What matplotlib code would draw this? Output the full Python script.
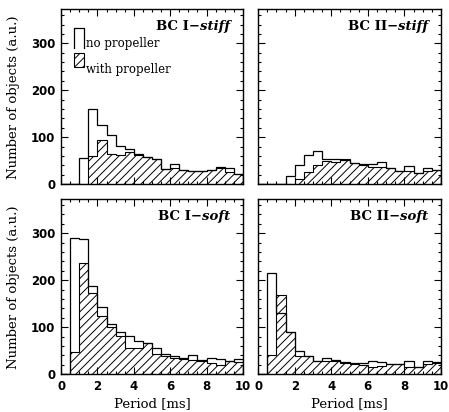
import matplotlib
matplotlib.use("Agg")
import matplotlib.pyplot as plt
from matplotlib.patches import Rectangle
from matplotlib.ticker import MultipleLocator

# Period histograms, bins of 0.5 ms between 0 and 10 ms
period_edges = [0.0, 0.5, 1.0, 1.5, 2.0, 2.5, 3.0, 3.5, 4.0, 4.5, 5.0,
                5.5, 6.0, 6.5, 7.0, 7.5, 8.0, 8.5, 9.0, 9.5, 10.0]

# no propeller / with propeller counts for each model
bc1_stiff_noprop = [0, 0, 56, 160, 125, 105, 82, 74, 64, 57,
                    53, 33, 42, 31, 27, 27, 30, 36, 34, 22]
bc1_stiff_prop = [0, 0, 0, 60, 93, 65, 63, 69, 62, 58,
                  53, 33, 34, 31, 27, 27, 30, 35, 25, 22]

bc2_stiff_noprop = [0, 0, 1, 18, 40, 63, 71, 53, 53, 51,
                    45, 43, 43, 47, 35, 29, 38, 23, 34, 30]
bc2_stiff_prop = [0, 0, 0, 0, 10, 25, 40, 50, 48, 53,
                  45, 40, 37, 37, 34, 27, 27, 23, 27, 30]

bc1_soft_noprop = [0, 289, 288, 187, 143, 106, 91, 82, 71, 66,
                   55, 43, 39, 35, 41, 30, 35, 32, 28, 33]
bc1_soft_prop = [0, 48, 236, 172, 123, 101, 82, 55, 55, 66,
                 43, 38, 35, 33, 30, 29, 23, 20, 28, 26]

bc2_soft_noprop = [0, 216, 131, 89, 50, 38, 29, 34, 30, 27,
                   25, 25, 28, 27, 22, 22, 28, 16, 28, 27]
bc2_soft_prop = [0, 40, 169, 89, 38, 38, 29, 28, 28, 25,
                 22, 20, 15, 18, 22, 22, 15, 16, 22, 23]

panels = [
    ("BC I\u2212", "stiff", bc1_stiff_noprop, bc1_stiff_prop),
    ("BC II\u2212", "stiff", bc2_stiff_noprop, bc2_stiff_prop),
    ("BC I\u2212", "soft", bc1_soft_noprop, bc1_soft_prop),
    ("BC II\u2212", "soft", bc2_soft_noprop, bc2_soft_prop),
]

plt.rcParams["hatch.linewidth"] = 0.7
serif = "DejaVu Serif"

fig = plt.figure(figsize=(4.49, 4.12), dpi=100)
boxes = [
    [0.136, 0.553, 0.405, 0.424],
    [0.575, 0.553, 0.407, 0.424],
    [0.136, 0.0915, 0.405, 0.4245],
    [0.575, 0.0915, 0.407, 0.4245],
]

for i, (box, (name, kind, noprop, prop)) in enumerate(zip(boxes, panels)):
    ax = fig.add_axes(box)
    ax.stairs(prop, period_edges, fill=True, facecolor="none",
              edgecolor="k", hatch="////", linewidth=0.8)
    ax.stairs(noprop, period_edges, color="k", linewidth=0.9)

    ax.set_xlim(0, 10)
    ax.set_ylim(0, 372)
    ax.xaxis.set_major_locator(MultipleLocator(2))
    ax.xaxis.set_minor_locator(MultipleLocator(0.5))
    ax.yaxis.set_major_locator(MultipleLocator(100))
    ax.yaxis.set_minor_locator(MultipleLocator(20))
    ax.tick_params(which="both", direction="in", top=True, right=True,
                   width=0.8, labelsize=8.5, pad=4)
    ax.tick_params(which="major", length=5)
    ax.tick_params(which="minor", length=2.5)
    for lab in ax.get_xticklabels() + ax.get_yticklabels():
        lab.set_fontweight("bold")
    for sp in ax.spines.values():
        sp.set_linewidth(1.0)

    if i % 2 == 1:
        ax.tick_params(labelleft=False)
    else:
        ax.set_ylabel("Number of objects (a.u.)", family=serif, fontsize=9.5,
                      labelpad=8)
    if i < 2:
        ax.tick_params(labelbottom=False)
    else:
        ax.set_xlabel("Period [ms]", family=serif, fontsize=9.5, labelpad=3)

    # panel label: "BC I-" in bold, model name in bold italic
    t_kind = ax.text(0.93, 0.9, kind, transform=ax.transAxes, ha="right",
                     va="center", family=serif, fontsize=9.5,
                     fontweight="bold", style="italic")
    ax.annotate(name, xy=(0, 0.5), xycoords=t_kind, ha="right", va="center",
                family=serif, fontsize=9.5, fontweight="bold")

    if i == 0:
        ax.plot([0.071, 0.071, 0.126, 0.126], [0.78, 0.894, 0.894, 0.78],
                color="k", linewidth=0.9, transform=ax.transAxes)
        ax.add_patch(Rectangle((0.071, 0.671), 0.055, 0.08,
                               transform=ax.transAxes, facecolor="none",
                               edgecolor="k", hatch="////", linewidth=0.8))
        ax.text(0.137, 0.805, "no propeller", transform=ax.transAxes,
                ha="left", va="center", family=serif, fontsize=8.5)
        ax.text(0.137, 0.659, "with propeller", transform=ax.transAxes,
                ha="left", va="center", family=serif, fontsize=8.5)

fig.savefig("out.png", dpi=100)
